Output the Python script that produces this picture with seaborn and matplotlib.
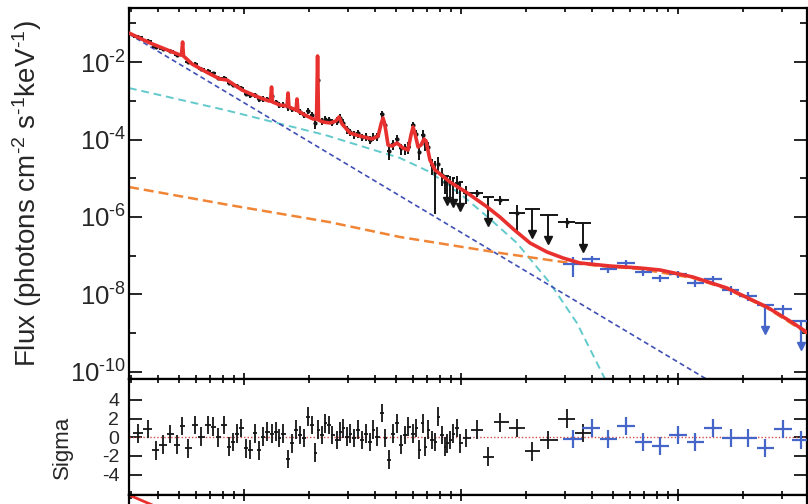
import matplotlib
matplotlib.use("Agg")
import numpy as np
import pandas as pd
import matplotlib.pyplot as plt
import seaborn as sns
from matplotlib.ticker import FixedLocator, LogLocator, NullFormatter

# ---------------- data (energies in keV, flux in photons cm^-2 s^-1 keV^-1) ----------------
model_energy = [0.295, 0.369, 0.456, 0.507, 0.515, 0.521, 0.526, 0.576, 0.683, 0.775,
                0.835, 0.979, 1.160, 1.303, 1.324, 1.339, 1.352, 1.465, 1.578, 1.595,
                1.611, 1.737, 1.754, 1.773, 1.910, 2.080, 2.158, 2.182, 2.205, 2.311,
                2.490, 2.65, 2.74, 2.83, 3.08, 3.42, 3.89, 4.15, 4.28, 4.37,
                4.46, 4.61, 4.81, 5.07, 5.40, 5.70, 5.88, 6.01, 6.14, 6.34,
                6.54, 6.75, 6.90, 7.19, 7.59, 8.90, 10.7, 13.2, 15.1, 17.4,
                20.8, 24.9, 29.5, 35.3, 48.6, 66.8, 82.6, 117, 168, 257,
                339, 397]
model_flux = [5.60e-2, 3.09e-2, 1.92e-2, 1.52e-2, 1.52e-2, 3.28e-2, 1.43e-2, 8.88e-3, 5.20e-3, 3.64e-3,
              3.43e-3, 1.89e-3, 1.25e-3, 9.86e-4, 9.86e-4, 2.26e-3, 9.29e-4, 7.76e-4, 7.32e-4, 1.58e-3,
              6.90e-4, 5.77e-4, 1.11e-3, 5.44e-4, 4.28e-4, 3.38e-4, 3.38e-4, 1.43e-2, 3.18e-4, 2.83e-4,
              2.67e-4, 3.00e-4, 3.81e-4, 2.51e-4, 1.47e-4, 1.23e-4, 1.03e-4, 1.23e-4, 2.51e-4, 3.59e-4,
              2.37e-4, 7.21e-5, 6.79e-5, 8.12e-5, 6.04e-5, 5.36e-5, 1.31e-4, 2.10e-4, 1.39e-4, 6.40e-5,
              7.21e-5, 1.03e-4, 9.14e-5, 2.96e-5, 1.63e-5, 8.00e-6, 4.16e-6, 1.81e-6, 1.00e-6, 4.90e-7,
              2.13e-7, 1.25e-7, 8.75e-8, 6.50e-8, 5.43e-8, 4.83e-8, 4.29e-8, 2.83e-8, 1.47e-8, 4.75e-9,
              1.84e-9, 1.01e-9]

powerlaw_energy = [0.295, 135.0]
powerlaw_flux = [5.29e-2, 6.6e-11]

soft_energy = [0.295, 0.818, 2.36, 5.23, 7.19, 10.2, 13.6, 18.1, 25.7, 34.2, 46.1]
soft_flux = [2.13e-3, 5.77e-4, 1.31e-4, 3.33e-5, 1.45e-5, 3.48e-6, 8.88e-7, 2.13e-7, 1.98e-8, 1.84e-9, 6.59e-11]

hard_energy = [0.295, 0.853, 2.46, 5.23, 15.1, 29.5, 43.7, 66.8, 117, 168, 257, 397]
hard_flux = [5.94e-6, 2.04e-6, 7.43e-7, 3.05e-7, 1.18e-7, 6.90e-8, 5.43e-8, 4.55e-8, 2.67e-8, 1.39e-8, 4.48e-9, 9.57e-10]

black_energy = [0.325, 0.361, 0.393, 0.423, 0.456, 0.491, 0.518, 0.552, 0.594, 0.634,
                0.682, 0.720, 0.759, 0.809, 0.853, 0.890, 0.928, 0.969, 1.021, 1.066,
                1.124, 1.172, 1.223, 1.276, 1.346, 1.404, 1.450, 1.512, 1.595, 1.664,
                1.736, 1.812, 1.890, 1.972, 2.058, 2.124, 2.193, 2.288, 2.362, 2.465,
                2.544, 2.683, 2.770, 2.859, 2.983, 3.080, 3.214, 3.353, 3.498, 3.650,
                3.808, 3.931, 4.102, 4.325, 4.465, 4.658, 4.861, 5.071, 5.291, 5.520,
                5.699, 6.009, 6.203, 6.404, 6.681, 6.824, 7.045, 7.351, 7.589, 7.834,
                8.173, 8.438, 8.619, 8.898, 9.187, 9.585, 9.894, 10.54,
                11.85, 13.32, 15.13, 18.12, 21.24, 25.17, 30.80, 36.50]
black_flux = [4.50e-2, 3.56e-2, 2.37e-2, 2.11e-2, 1.98e-2, 1.52e-2, 1.69e-2, 1.00e-2, 9.04e-3, 6.59e-3,
              5.86e-3, 5.08e-3, 3.86e-3, 3.95e-3, 2.90e-3, 2.58e-3, 2.39e-3, 2.16e-3, 1.53e-3, 1.37e-3,
              1.40e-3, 1.08e-3, 1.12e-3, 1.08e-3, 1.29e-3, 9.02e-4, 7.86e-4, 7.86e-4, 6.70e-4, 6.02e-4,
              6.19e-4, 5.28e-4, 4.40e-4, 5.43e-4, 4.22e-4, 2.67e-4, 3.43e-3, 3.00e-4, 3.46e-4, 3.24e-4,
              2.81e-4, 3.09e-4, 3.63e-4, 2.72e-4, 1.82e-4, 1.56e-4, 1.35e-4, 1.44e-4, 1.14e-4, 1.19e-4,
              9.82e-5, 1.19e-4, 1.21e-4, 4.42e-4, 2.32e-4, 4.95e-5, 7.52e-5, 1.01e-4, 5.93e-5, 5.96e-5,
              6.37e-5, 2.31e-4, 1.39e-4, 4.84e-5, 1.31e-4, 7.66e-5, 6.29e-5, 2.17e-5, 1.45e-5, 2.39e-5,
              1.24e-5, 8.00e-6, 1.14e-5, 7.45e-6, 1.01e-5, 7.76e-6, 8.00e-6, 4.22e-6,
              4.16e-6, 3.28e-6, 2.75e-6, 1.27e-6, 1.61e-6, 1.13e-6, 7.43e-7, 7.00e-7]
black_relerr = [0.10, 0.10, 0.10, 0.10, 0.10, 0.10, 0.10, 0.10, 0.10, 0.10,
                0.10, 0.10, 0.10, 0.10, 0.12, 0.12, 0.12, 0.12, 0.14, 0.14,
                0.14, 0.14, 0.15, 0.15, 0.15, 0.16, 0.16, 0.16, 0.17, 0.17,
                0.18, 0.18, 0.18, 0.18, 0.20, 0.30, 0.12, 0.20, 0.20, 0.20,
                0.22, 0.22, 0.22, 0.22, 0.22, 0.22, 0.22, 0.22, 0.22, 0.22,
                0.24, 0.24, 0.24, 0.20, 0.26, 0.40, 0.30, 0.30, 0.32, 0.32,
                0.34, 0.26, 0.30, 0.40, 0.32, 0.36, 0.38, 0.45, 0.92, 0.45,
                0.50, 0.50, 0.0, 0.55, 0.0, 0.50, 0.0, 0.50,
                0.20, 0.0, 0.25, 0.65, 0.0, 0.0, 0.30, 0.0]
black_is_limit = [False] * 72 + [True, False, True, False, True, False] + \
                 [False, True, False, False, True, True, False, True]
black_sigma = [0.43, 0.9, -1.4, -0.8, 0.36, -0.8, 1.2, -1.2, 1.3, 0.07,
               1.3, 1.15, 0.0, 1.3, -1.0, -0.5, 0.4, 1.0, -1.2, -1.35,
               0.43, -1.4, 0.07, 0.6, 0.4, 0.6, -0.1, 0.4, -2.35, -0.65,
               0.8, 0.25, -0.1, 2.2, 1.3, -1.65, 0.8, 0.25, 1.5, 1.3,
               0.25, -0.3, 0.6, 0.95, 0.07, 0.4, -0.1, 0.8, -0.3, 0.4,
               -0.5, 0.8, 0.07, 2.6, -0.1, -2.4, 0.4, 1.5, -0.8, 0.25,
               1.15, 0.4, 1.0, -1.35, 1.5, -1.0, 0.8, -0.3, -0.5, 2.2,
               0.25, -1.0, -0.65, -0.3, 0.4, 1.0, -0.65, -0.1,
               0.8, -2.1, 1.6, 1.0, -1.5, -0.3, 2.0, 0.45]

blue_energy = [32.8, 40.1, 47.6, 57.6, 69.0, 82.6, 100.0, 120.0, 145.0, 175.0, 210.0, 252.0, 305.0, 369.0]
blue_flux = [6.12e-8, 8.24e-8, 4.55e-8, 6.50e-8, 3.81e-8, 2.67e-8, 3.38e-8, 1.98e-8, 2.51e-8,
             1.31e-8, 9.14e-9, 5.36e-9, 4.23e-9, 2.07e-9]
blue_relerr = [0.55, 0.20, 0.20, 0.20, 0.20, 0.20, 0.20, 0.22, 0.22, 0.25, 0.25, 0.0, 0.30, 0.0]
blue_is_limit = [False] * 11 + [True, False, True]
blue_sigma = [-0.18, 1.0, -0.18, 1.2, -0.5, -0.93, 0.25, -0.5, 1.0, -0.07, -0.07, -1.14, 0.89, -0.29]

lower_panel_energy = [0.295, 0.456]
lower_panel_ratio = [1.0, 0.848]

flux_ticks = [1e-10, 1e-8, 1e-6, 1e-4, 1e-2]
flux_tick_labels = [r"10$^{\text{-10}}$", r"10$^{\text{-8}}$", r"10$^{\text{-6}}$",
                    r"10$^{\text{-4}}$", r"10$^{\text{-2}}$"]
sigma_ticks = [-4, -2, 0, 2, 4]
sigma_tick_labels = ["-4", "-2", "0", "2", "4"]

# ---------------- style ----------------
RED = "#e8302e"
BLACK = "#151515"
BLUE_PTS = "#4565c8"
BLUE_PL = "#4050b4"
CYAN = "#62c9cc"
ORANGE = "#f08536"
LIMIT_DROP = 4.4

sns.set_theme(style="ticks")
plt.rcParams["font.family"] = ["Liberation Sans", "DejaVu Sans"]
plt.rcParams["mathtext.fontset"] = "custom"
plt.rcParams["mathtext.rm"] = "Liberation Sans"
plt.rcParams["mathtext.it"] = "Liberation Sans:italic"
plt.rcParams["mathtext.bf"] = "Liberation Sans:bold"

W, H = 808, 504
fig = plt.figure(figsize=(W / 100, H / 100), dpi=100)


def px_axes(x0, x1, ytop, ybot):
    return fig.add_axes([x0 / W, 1 - ybot / H, (x1 - x0) / W, (ybot - ytop) / H])


ax = px_axes(129, 806.5, 8, 379)
axr = px_axes(129, 806.5, 379, 495)
ax3 = px_axes(129, 806.5, 495, 611)

for a in (ax, axr, ax3):
    a.set_xscale("log")
    a.set_xlim(0.295, 391)
    for s in a.spines.values():
        s.set_linewidth(1.6)
        s.set_color("black")
ax.set_yscale("log")
ax.set_ylim(6.59e-11, 0.2477)
axr.set_ylim(-6.2, 6.25)
ax3.set_ylim(0, 1)


def log_halfwidths(e):
    le = np.log10(np.asarray(e, float))
    mids = (le[:-1] + le[1:]) / 2
    lo = np.concatenate([[le[0] - (mids[0] - le[0])], mids])
    hi = np.concatenate([mids, [le[-1] + (le[-1] - mids[-1])]])
    ev = 10 ** le
    return ev - 10 ** lo, 10 ** hi - ev


def draw_spectrum(a, e, f, rel, lim, color, lw, dot):
    e = np.asarray(e, float)
    f = np.asarray(f, float)
    rel = np.asarray(rel, float)
    lim = np.asarray(lim, bool)
    xlo, xhi = log_halfwidths(e)
    det = ~lim
    a.errorbar(e[det], f[det], yerr=rel[det] * f[det], xerr=[xlo[det], xhi[det]],
               fmt="none", ecolor=color, elinewidth=lw, zorder=3)
    if dot:
        sns.scatterplot(x=e[det], y=f[det], ax=a, color=color, s=dot, linewidth=0, zorder=3)
    bottom = f[lim] / LIMIT_DROP
    a.errorbar(e[lim], f[lim], xerr=[xlo[lim], xhi[lim]],
               yerr=[f[lim] - bottom, np.zeros(lim.sum())],
               fmt="none", ecolor=color, elinewidth=lw, zorder=3)
    a.plot(e[lim], bottom, linestyle="none", marker="v", color=color, ms=5.5, zorder=3)


def draw_resid(a, e, s, color, lw):
    e = np.asarray(e, float)
    xlo, xhi = log_halfwidths(e)
    a.errorbar(e, s, yerr=1.0, xerr=[xlo, xhi], fmt="none", ecolor=color, elinewidth=lw, zorder=3)


# model components
sns.lineplot(x=soft_energy, y=soft_flux, ax=ax, color=CYAN, linewidth=1.4,
             linestyle=(0, (4, 2.5)), estimator=None, sort=False, zorder=2)
sns.lineplot(x=powerlaw_energy, y=powerlaw_flux, ax=ax, color=BLUE_PL, linewidth=1.2,
             linestyle=(0, (3, 2)), estimator=None, sort=False, zorder=2)
sns.lineplot(x=hard_energy, y=hard_flux, ax=ax, color=ORANGE, linewidth=1.8,
             linestyle=(0, (4, 2)), estimator=None, sort=False, zorder=2)

# data
draw_spectrum(ax, black_energy, black_flux, black_relerr, black_is_limit, BLACK, 1.4, 9)
draw_spectrum(ax, blue_energy, blue_flux, blue_relerr, blue_is_limit, BLUE_PTS, 1.6, 0)

# total model
sns.lineplot(x=model_energy, y=model_flux, ax=ax, color=RED, linewidth=2.6,
             estimator=None, sort=False, zorder=4)

# residuals
axr.axhline(0, color="#d0484a", linewidth=1.0, linestyle=(0, (1, 1.5)), zorder=1)
draw_resid(axr, black_energy, black_sigma, BLACK, 1.3)
draw_resid(axr, blue_energy, blue_sigma, BLUE_PTS, 1.6)

# lower (cropped) panel
sns.lineplot(x=lower_panel_energy, y=lower_panel_ratio, ax=ax3, color=RED, linewidth=2.0,
             estimator=None, sort=False)

# ticks
for a in (ax, axr, ax3):
    a.xaxis.set_major_locator(FixedLocator([1, 10, 100]))
    a.xaxis.set_minor_locator(LogLocator(base=10, subs=np.arange(2, 10), numticks=50))
    a.xaxis.set_minor_formatter(NullFormatter())
    a.tick_params(which="both", direction="in", top=True, bottom=True, left=True, right=True,
                  labelbottom=False, labeltop=False, width=1.2, color="black")
    a.tick_params(axis="x", which="major", length=4.2)
    a.tick_params(axis="x", which="minor", length=2.6)
    a.set_xlabel("")
    a.set_ylabel("")

ax.yaxis.set_major_locator(FixedLocator(flux_ticks))
ax.yaxis.set_minor_locator(FixedLocator([1e-9, 1e-7, 1e-5, 1e-3, 1e-1]))
ax.yaxis.set_minor_formatter(NullFormatter())
ax.set_yticklabels(flux_tick_labels)
ax.tick_params(axis="y", which="major", length=9.5, labelsize=18.5, pad=2)
ax.tick_params(axis="y", which="minor", length=5)

axr.yaxis.set_major_locator(FixedLocator(sigma_ticks))
axr.set_yticklabels(sigma_tick_labels)
axr.tick_params(axis="y", which="major", length=9.5, labelsize=14, pad=7)
axr.tick_params(axis="y", which="minor", length=0)

ax3.set_yticks([])
ax3.tick_params(axis="y", which="both", length=0, labelleft=False)

ax.set_ylabel(r"Flux (photons cm$^{\text{-2}}$ s$^{\text{-1}}$keV$^{\text{-1}}$)", fontsize=20)
ax.yaxis.set_label_coords(-0.125, 0.5)
axr.set_ylabel("Sigma", fontsize=16)
axr.yaxis.set_label_coords(-0.083, 0.41)

fig.savefig("out.png", dpi=100)
